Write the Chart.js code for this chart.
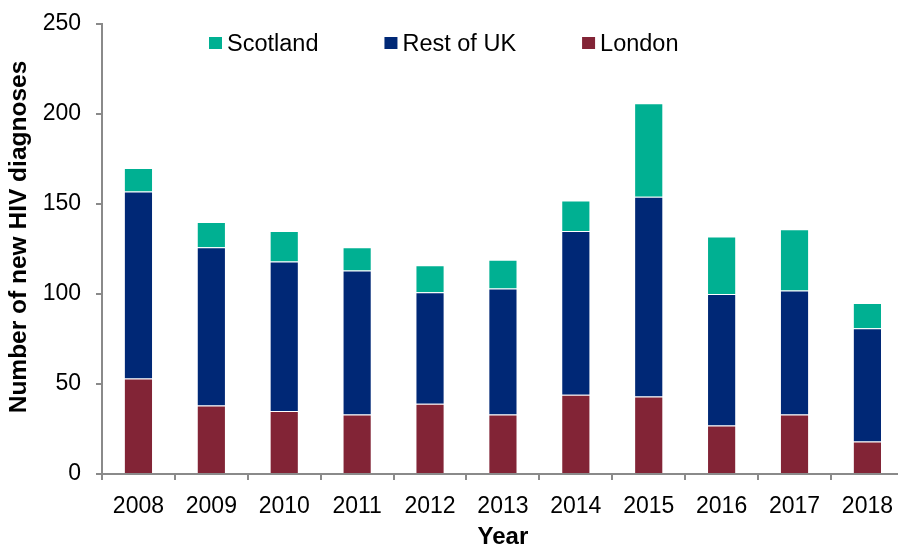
<!DOCTYPE html>
<html>
<head>
<meta charset="utf-8">
<script src="https://cdn.jsdelivr.net/npm/chart.js@4.4.1/dist/chart.umd.min.js"></script>
<style>
  html, body { margin: 0; padding: 0; overflow: hidden; background: #fff; }
</style>
</head>
<body>
<canvas id="barChart" width="906" height="546"></canvas>
<script>
var years = ["2008", "2009", "2010", "2011", "2012", "2013", "2014", "2015", "2016", "2017", "2018"];

var london = [53, 38, 35, 33, 39, 33, 44, 43, 27, 33, 18];
var restOfUK = [104, 88, 83, 80, 62, 70, 91, 111, 73, 69, 63];
var scotland = [13, 14, 17, 13, 15, 16, 17, 52, 32, 34, 14];

var seriesNames = ["London", "Rest of UK", "Scotland"];
var seriesColors = ["#822436", "#002876", "#00B092"];

var yMin = 0, yMax = 250, yStep = 50;
var yTitle = "Number of new HIV diagnoses";

var fontFamily = '"Liberation Sans", Arial, sans-serif';
var axisGray = "#8a8a8a";

// legend sits inside the plot area, above the bars; y title drawn here too
// so it can sit a little above the plot's middle like the original
const extras = {
  id: "extras",
  afterDraw(chart) {
    const ctx = chart.ctx;
    ctx.save();
    ctx.font = "23.5px " + fontFamily;
    ctx.textBaseline = "alphabetic";
    let x = 209;
    chart.data.datasets.slice().reverse().forEach(ds => {
      ctx.fillStyle = ds.backgroundColor;
      ctx.fillRect(x, 37, 13, 12);
      ctx.fillStyle = "#000";
      ctx.fillText(ds.label, x + 18, 51);
      x += 18 + ctx.measureText(ds.label).width + 66;
    });

    ctx.translate(19, 237);
    ctx.rotate(-Math.PI / 2);
    ctx.font = "bold 24.5px " + fontFamily;
    ctx.textAlign = "center";
    ctx.textBaseline = "middle";
    ctx.fillText(yTitle, 0, 0);
    ctx.restore();
  }
};

const barPlot = () => {
  var ctx = document.getElementById("barChart").getContext("2d");
  var values = [london, restOfUK, scotland];

  new Chart(ctx, {
    type: "bar",
    data: {
      labels: years,
      datasets: values.map((v, i) => ({
        label: seriesNames[i],
        data: v,
        backgroundColor: seriesColors[i],
        borderColor: "rgba(255,255,255,0.3)",
        borderWidth: 1,
        categoryPercentage: 1,
        barPercentage: 0.4
      }))
    },
    options: {
      responsive: false,
      animation: false,
      layout: { padding: { top: 24, left: 0, right: 0, bottom: 0 } },
      plugins: {
        legend: { display: false },
        tooltip: { enabled: false }
      },
      scales: {
        x: {
          stacked: true,
          afterFit: s => { s.height = 72; },
          border: { color: axisGray, width: 2 },
          grid: { drawOnChartArea: false, drawTicks: true, tickLength: 6, color: axisGray, lineWidth: 2, offset: true },
          ticks: { color: "#000", font: { family: fontFamily, size: 23 }, padding: 13, maxRotation: 0 },
          title: {
            display: true,
            text: "Year",
            color: "#000",
            font: { family: fontFamily, size: 24, weight: "bold", lineHeight: 1 },
            padding: { top: 0, bottom: -3 }
          }
        },
        y: {
          stacked: true,
          min: yMin,
          max: yMax,
          afterFit: s => { s.width = 102; s.paddingTop = 0; s.paddingBottom = 0; },
          border: { color: axisGray, width: 2 },
          grid: { drawOnChartArea: false, drawTicks: true, tickLength: 6, color: axisGray, lineWidth: 2 },
          ticks: { stepSize: yStep, color: "#000", font: { family: fontFamily, size: 23 }, padding: 15 }
        }
      }
    },
    plugins: [extras]
  });
};

barPlot();
</script>
</body>
</html>
